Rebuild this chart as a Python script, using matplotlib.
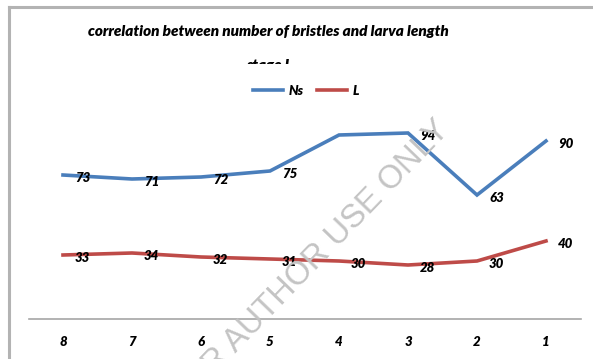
import matplotlib
matplotlib.use("Agg")
import matplotlib.pyplot as plt
from matplotlib.lines import Line2D
from matplotlib.patches import Rectangle

# Larval stages, plotted from 8 down to 1
stages = ["8", "7", "6", "5", "4", "3", "2", "1"]
ns_values = [73, 71, 72, 75, 93, 94, 63, 90]      # number of bristles
l_values = [33, 34, 32, 31, 30, 28, 30, 40]        # larva length
ns_labels = ["73", "71", "72", "75", "", "94", "63", "90"]
l_labels = ["33", "34", "32", "31", "30", "28", "30", "40"]

W, H = 593, 359
DPI = 100
plt.rcParams["font.family"] = ["Lato", "DejaVu Sans"]

fig = plt.figure(figsize=(W / DPI, H / DPI), dpi=DPI)
fig.patch.set_facecolor("white")

def fx(px):
    return px / W

def fy(py):
    return 1 - py / H

# watermark, behind everything else
fig.text(fx(311), fy(264), "FOR AUTHOR USE ONLY", rotation=46, rotation_mode="anchor",
         ha="center", va="center", fontsize=23.5, color="#c4c4c4",
         family=["Liberation Sans", "DejaVu Sans"], zorder=0)

# plot area in pixel terms: left 28.5, right 580.5, value 0 at y=321, 100 at y=121
ax = fig.add_axes([fx(28.5), fy(321), (580.5 - 28.5) / W, 200 / H])
ax.spines["bottom"].set_position(("data", 1))
for s in ["top", "right", "left"]:
    ax.spines[s].set_visible(False)
ax.spines["bottom"].set_color("#a6a6a6")
ax.spines["bottom"].set_linewidth(1.2)
ax.patch.set_alpha(0)

x = list(range(len(stages)))
blue = "#4A7EBB"
red = "#BE4B48"
ax.plot(x, ns_values, color=blue, lw=2.6, solid_joinstyle="miter", label="Ns", zorder=3)
ax.plot(x, l_values, color=red, lw=2.6, solid_joinstyle="miter", label="L", zorder=3)
ax.set_xlim(-0.5, len(stages) - 0.5)
ax.set_ylim(0, 100)

lab_font = dict(fontsize=9.5, fontweight="heavy", fontstyle="italic", color="black")
for xi, v, t in zip(x, ns_values, ns_labels):
    if t:
        ax.annotate(t, (xi, v), xytext=(12, -3), textcoords="offset pixels",
                    ha="left", va="center", zorder=4, **lab_font)
for xi, v, t in zip(x, l_values, l_labels):
    ax.annotate(t, (xi, v), xytext=(12, -3), textcoords="offset pixels",
                ha="left", va="center", zorder=4, **lab_font)

ax.set_xticks(x)
ax.set_xticklabels(stages, fontsize=9.5, fontweight="heavy", fontstyle="italic")
ax.tick_params(axis="x", length=0, pad=12)
ax.set_yticks([])

# chart frame (left and top edges)
fig.add_artist(Line2D([fx(9), fx(9)], [fy(7), 0], color="#b3b3b3", lw=2.2))
fig.add_artist(Line2D([fx(9), 1], [fy(7), fy(7)], color="#b3b3b3", lw=2.2))

title_font = dict(fontsize=11, fontweight="heavy", fontstyle="italic", color="black")
fig.text(fx(268), fy(31), "correlation between number of bristles and larva length",
         ha="center", va="center", **title_font)
sub = fig.text(fx(268), fy(66), "stage I", ha="center", va="center", **title_font)
clip = Rectangle((0, fy(64)), 1, 1, transform=fig.transFigure, visible=False)
fig.add_artist(clip)
sub.set_clip_path(clip)

fig.legend(loc="center", bbox_to_anchor=(fx(306), fy(91)), ncol=2, frameon=False,
           handlelength=2.3, handletextpad=0.4, columnspacing=1.0,
           prop=dict(size=9.5, weight="heavy", style="italic"))

fig.savefig("out.png", dpi=DPI)
